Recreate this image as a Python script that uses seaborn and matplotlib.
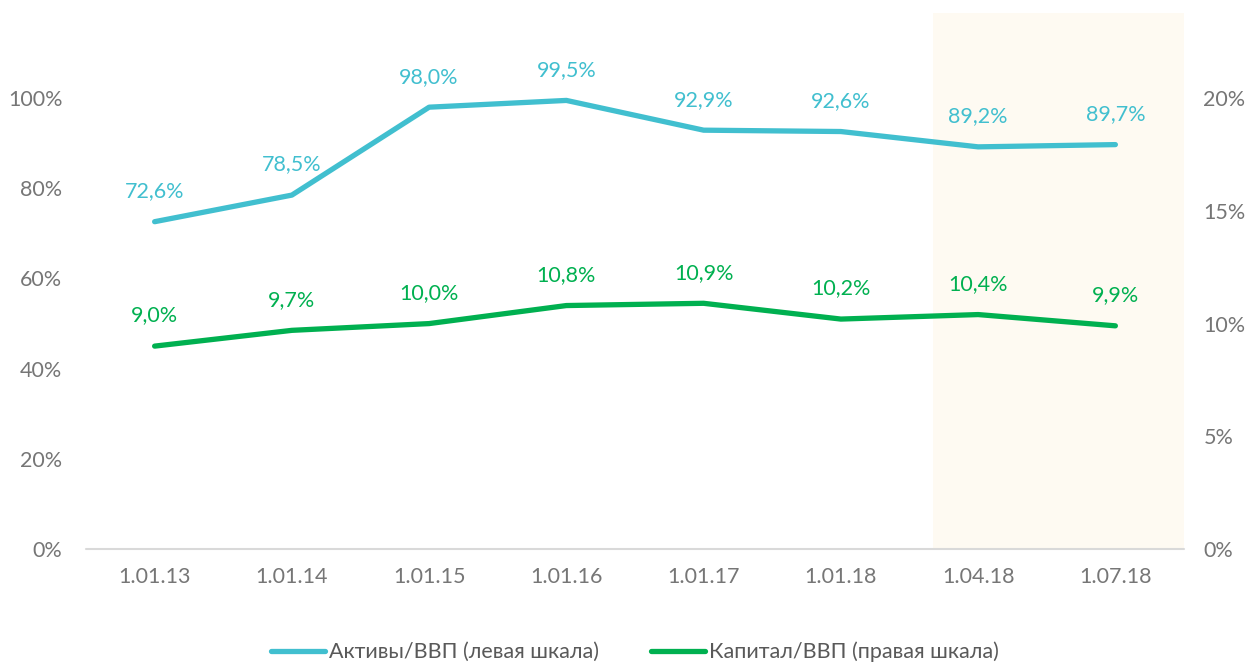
import numpy as np
import pandas as pd
import matplotlib.pyplot as plt
import matplotlib.ticker as mticker
import seaborn as sns

# ── Data ──────────────────────────────────────────────────────────────────────
dates   = ["1.01.13", "1.01.14", "1.01.15", "1.01.16", "1.01.17", "1.01.18", "1.04.18", "1.07.18"]
assets  = [72.6, 78.5, 98.0, 99.5, 92.9, 92.6, 89.2, 89.7]    # Активы/ВВП, left axis
capital = [9.0, 9.7, 10.0, 10.8, 10.9, 10.2, 10.4, 9.9]       # Капитал/ВВП, right axis
left_ticks  = [0, 20, 40, 60, 80, 100]
right_ticks = [0, 5, 10, 15, 20]

# ── Style ─────────────────────────────────────────────────────────────────────
sns.set_style("white")
plt.rcParams["font.family"] = ["Lato", "DejaVu Sans"]
CYAN, GREEN = "#41BFCF", "#00B050"
GREY = "#767676"
FS = 15.5

df = pd.DataFrame({"pos": np.arange(len(dates)), "date": dates,
                   "assets": assets, "capital": capital})

fig = plt.figure(figsize=(12.56, 6.63), dpi=100)
ax = fig.add_axes([86 / 1256, 1 - 549 / 663, (1184 - 86) / 1256, 541 / 663])
ax2 = ax.twinx()

# highlighted period (last two quarters)
ax.axvspan(5.67, 7.5, ymin=0, ymax=0.99, color="#fefaf2", zorder=0, lw=0)

sns.lineplot(data=df, x="pos", y="assets", ax=ax, color=CYAN, lw=3.8,
             solid_capstyle="round", label="Активы/ВВП (левая шкала)", legend=False)
sns.lineplot(data=df, x="pos", y="capital", ax=ax2, color=GREEN, lw=3.8,
             solid_capstyle="round", label="Капитал/ВВП (правая шкала)", legend=False)

for x, v in zip(df["pos"], assets):
    ax.annotate(f"{v:.1f}%".replace(".", ","), (x, v), xytext=(0, 22),
                textcoords="offset points", ha="center", va="center",
                color=CYAN, fontsize=FS)
for x, v in zip(df["pos"], capital):
    ax2.annotate(f"{v:.1f}%".replace(".", ","), (x, v), xytext=(0, 22),
                 textcoords="offset points", ha="center", va="center",
                 color=GREEN, fontsize=FS)

ax.set_xlim(-0.5, 7.5)
ax.set_ylim(0, 120)
ax2.set_ylim(0, 24)
ax.set_yticks(left_ticks)
ax2.set_yticks(right_ticks)
ax.yaxis.set_major_formatter(mticker.FuncFormatter(lambda v, _: f"{v:.0f}%"))
ax2.yaxis.set_major_formatter(mticker.FuncFormatter(lambda v, _: f"{v:.0f}%"))
ax.set_xticks(df["pos"])
ax.set_xticklabels(dates)
ax.set_xlabel("")
ax.set_ylabel("")
ax2.set_ylabel("")

for a in (ax, ax2):
    for s in ("top", "left", "right", "bottom"):
        a.spines[s].set_visible(False)
    a.tick_params(length=0, labelsize=FS, labelcolor=GREY)
ax.axhline(0, color="#d9d9d9", lw=1.5, zorder=1, clip_on=False)
ax.tick_params(axis="y", pad=17)
ax.tick_params(axis="x", pad=13)
ax2.tick_params(axis="y", pad=14)

h1, l1 = ax.get_legend_handles_labels()
h2, l2 = ax2.get_legend_handles_labels()
fig.legend(h1 + h2, l1 + l2, loc="center", bbox_to_anchor=(635 / 1256, 1 - 652 / 663),
           ncol=2, frameon=False, fontsize=FS, handlelength=2.5, handletextpad=0.2,
           columnspacing=2.4, labelcolor="#595959")

fig.savefig("out.png", dpi=100)
